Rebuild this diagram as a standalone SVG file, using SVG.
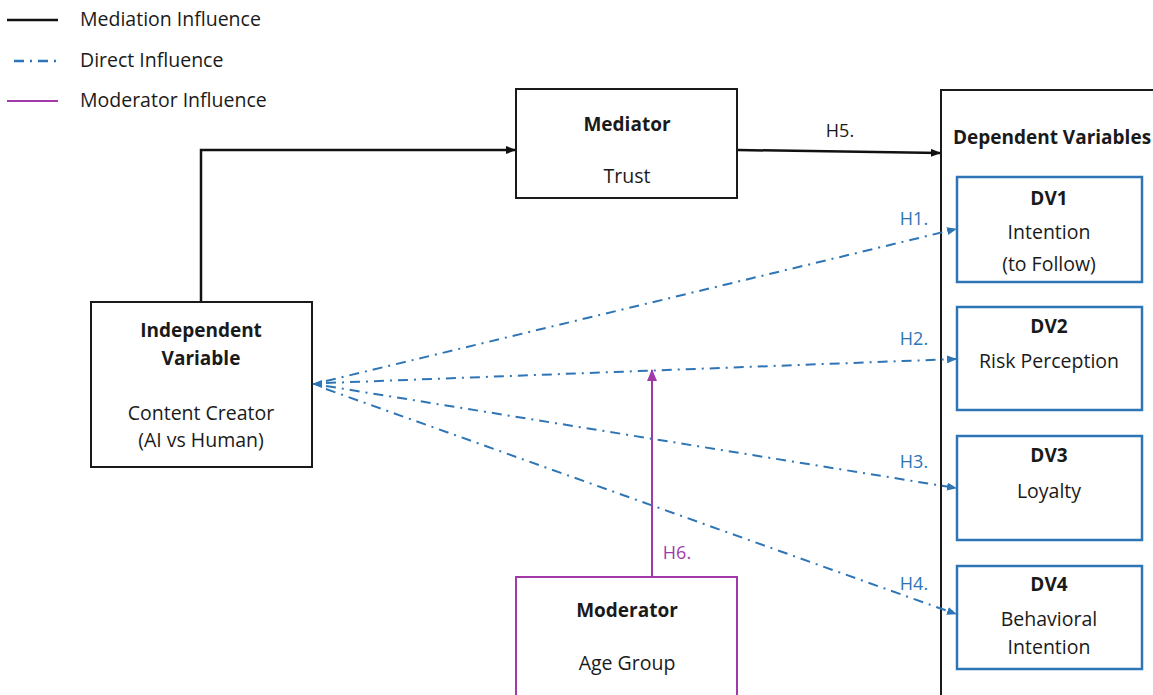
<svg xmlns="http://www.w3.org/2000/svg" width="1153" height="695" viewBox="0 0 1153 695">
<defs>
<style>
text{font-family:"Open Sans","Liberation Sans",sans-serif;font-size:19.5px;fill:#1a1a1a}
.b{font-weight:bold;font-size:19px}
.c{text-anchor:middle}
.h{font-size:18px}
.blue{fill:#2E75B6}
.pur{fill:#A13AA8}
.box{fill:#fff;stroke:#1a1a1a;stroke-width:2}
.dvb{fill:#fff;stroke:#2E75B6;stroke-width:2.5}
.mod{fill:#fff;stroke:#A13AA8;stroke-width:2}
.med{fill:none;stroke:#111;stroke-width:2.5}
.dir{fill:none;stroke:#2E75B6;stroke-width:2;stroke-dasharray:10 6 2 6}
.mo{fill:none;stroke:#A13AA8;stroke-width:2}
</style>
<marker id="ak" markerWidth="10" markerHeight="8" refX="9" refY="4" orient="auto" markerUnits="userSpaceOnUse"><path d="M0,0 L10,4 L0,8 z" fill="#111"/></marker>
<marker id="ab" markerWidth="10" markerHeight="8" refX="9" refY="4" orient="auto" markerUnits="userSpaceOnUse"><path d="M0,0 L10,4 L0,8 z" fill="#2E75B6"/></marker>
<marker id="ap" markerWidth="12" markerHeight="10" refX="11" refY="5" orient="auto" markerUnits="userSpaceOnUse"><path d="M0,0 L12,5 L0,10 z" fill="#A13AA8"/></marker>
</defs>
<rect width="1153" height="695" fill="#fff"/>
<g id="legend">
<line x1="7" y1="20" x2="58" y2="20" stroke="#111" stroke-width="2.5"/>
<text x="80" y="26">Mediation Influence</text>
<line x1="14" y1="61" x2="58" y2="61" stroke="#2E75B6" stroke-width="2.5" stroke-dasharray="10 6 2 6"/>
<text x="80" y="67">Direct Influence</text>
<line x1="7" y1="101" x2="58" y2="101" stroke="#A13AA8" stroke-width="2"/>
<text x="80" y="107">Moderator Influence</text>
</g>
<g id="dependent">
<rect x="941" y="90" width="230" height="640" class="box"/>
<text x="1052" y="144" class="b c">Dependent Variables</text>
</g>
<g id="dv1">
<rect x="957" y="177" width="185" height="105" class="dvb"/>
<text x="1049" y="205" class="b c">DV1</text>
<text x="1049" y="239" class="c">Intention</text>
<text x="1049" y="271" class="c">(to Follow)</text>
</g>
<g id="dv2">
<rect x="957" y="307" width="185" height="103" class="dvb"/>
<text x="1049" y="333" class="b c">DV2</text>
<text x="1049" y="368" class="c">Risk Perception</text>
</g>
<g id="dv3">
<rect x="957" y="436" width="185" height="104" class="dvb"/>
<text x="1049" y="462" class="b c">DV3</text>
<text x="1049" y="498" class="c">Loyalty</text>
</g>
<g id="dv4">
<rect x="957" y="566" width="185" height="103" class="dvb"/>
<text x="1049" y="591" class="b c">DV4</text>
<text x="1049" y="626" class="c">Behavioral</text>
<text x="1049" y="654" class="c">Intention</text>
</g>
<g id="mediator">
<rect x="516" y="89" width="221" height="109" class="box"/>
<text x="627" y="131" class="b c">Mediator</text>
<text x="627" y="183" class="c">Trust</text>
</g>
<g id="independent">
<rect x="91" y="302" width="221" height="165" class="box"/>
<text x="201" y="337" class="b c">Independent</text>
<text x="201" y="365" class="b c">Variable</text>
<text x="201" y="420" class="c">Content Creator</text>
<text x="201" y="447" class="c">(AI vs Human)</text>
</g>
<g id="moderator">
<rect x="516" y="577" width="221" height="140" class="mod"/>
<text x="627" y="617" class="b c">Moderator</text>
<text x="627" y="670" class="c">Age Group</text>
</g>
<g id="connectors">
<path d="M201,301 V150 H515" class="med" marker-end="url(#ak)"/>
<path d="M738,150 L940,153" class="med" marker-end="url(#ak)"/>
<path d="M326,381 L956,229" class="dir" marker-end="url(#ab)"/>
<path d="M326,383 L956,359" class="dir" marker-end="url(#ab)"/>
<path d="M326,386 L956,488" class="dir" marker-end="url(#ab)"/>
<path d="M326,389 L956,614" class="dir" marker-end="url(#ab)"/>
<path d="M322,384 L313,384" fill="none" stroke="#2E75B6" stroke-width="2" marker-end="url(#ab)"/>
<path d="M652,577 V370" class="mo" marker-end="url(#ap)"/>
<text x="840" y="137" class="c h">H5.</text>
<text x="914" y="225" class="c h blue">H1.</text>
<text x="914" y="345" class="c h blue">H2.</text>
<text x="914" y="468" class="c h blue">H3.</text>
<text x="914" y="590" class="c h blue">H4.</text>
<text x="677" y="559" class="c h pur">H6.</text>
</g>
</svg>
